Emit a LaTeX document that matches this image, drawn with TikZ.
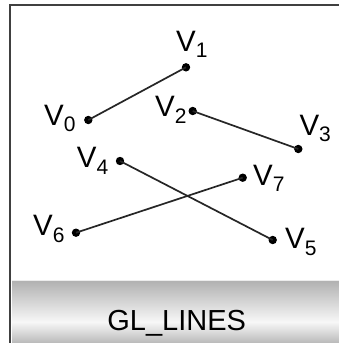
\documentclass[tikz,border=0pt]{standalone}
\usepackage{fontspec}
\setmainfont{Liberation Sans}
\newcommand{\vlab}[1]{V\raisebox{-6.7pt}{\fontsize{21}{21}\selectfont #1}}
\tikzset{
  vdot/.style={circle,fill=black,inner sep=0pt,minimum size=8.4pt},
  vlabel/.style={anchor=base west,inner sep=0pt,font=\fontsize{29.5}{30}\selectfont},
  seg/.style={line width=1.7pt,draw=black!85},
  frameline/.style={line width=2pt,draw=black!75},
}
\begin{document}
\begin{tikzpicture}[x=1pt,y=-1pt]
\useasboundingbox (0,0) rectangle (339,343);
\fill[white] (0,0) rectangle (339,343);
% band
\shade[top color=gray!62,bottom color=gray!6] (12,280) rectangle (339,322);
\shade[top color=gray!6,bottom color=gray!55] (12,322) rectangle (339,343);
\draw[white!85!gray,line width=1pt] (12,280.5) -- (339,280.5);
\node[anchor=base,inner sep=0pt,font=\fontsize{29}{30}\selectfont] (title) at (176.7,330) {GL\_LINES};
% frame
\coordinate (fb) at (10,343);
\coordinate (fc) at (10,5);
\coordinate (fr) at (339,5);
\draw[frameline] (fb) -- (fc) -- (fr);
% vertices
\node[vdot] (v0) at (88.3,120) {};
\node[vdot] (v1) at (186,67.3) {};
\node[vdot] (v2) at (192.7,111) {};
\node[vdot] (v3) at (298.3,149) {};
\node[vdot] (v4) at (120,161) {};
\node[vdot] (v5) at (272.7,240) {};
\node[vdot] (v6) at (76,232.7) {};
\node[vdot] (v7) at (242.7,177.7) {};
% labels
\node[vlabel] (l0) at (44,125) {\vlab{0}};
\node[vlabel] (l1) at (176,51) {\vlab{1}};
\node[vlabel] (l2) at (155,116.7) {\vlab{2}};
\node[vlabel] (l3) at (299.3,135) {\vlab{3}};
\node[vlabel] (l4) at (76.7,167.3) {\vlab{4}};
\node[vlabel] (l5) at (285,248.3) {\vlab{5}};
\node[vlabel] (l6) at (33,235.7) {\vlab{6}};
\node[vlabel] (l7) at (253,185) {\vlab{7}};
% segments
\draw[seg] (v0.center) -- (v1.center);
\draw[seg] (v2.center) -- (v3.center);
\draw[seg] (v4.center) -- (v5.center);
\draw[seg] (v6.center) -- (v7.center);
\end{tikzpicture}
\end{document}
